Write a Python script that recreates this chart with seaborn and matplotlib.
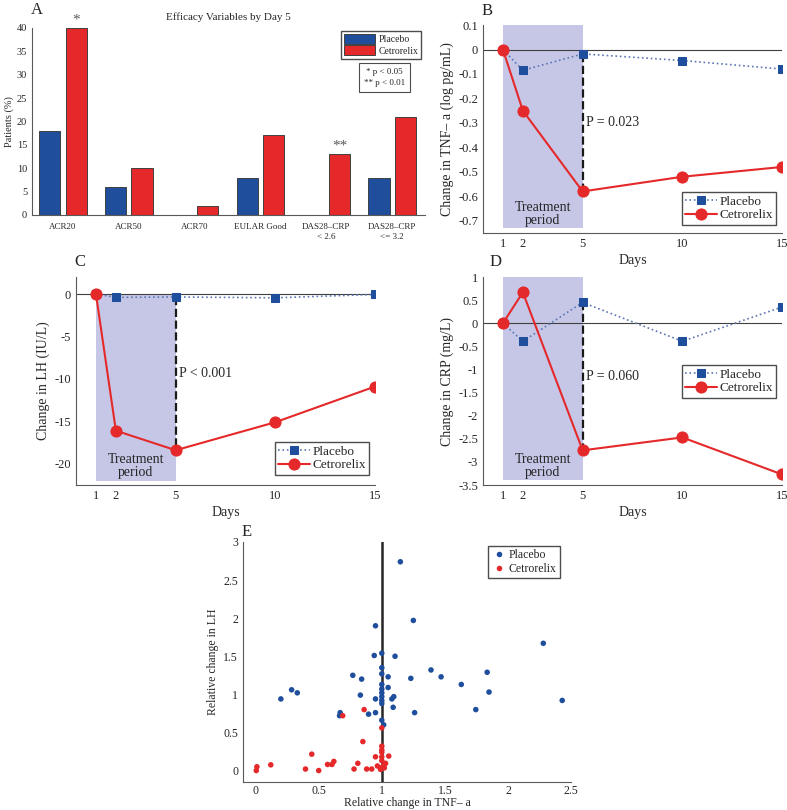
import numpy as np
import pandas as pd
import matplotlib
matplotlib.use('Agg')
import matplotlib.pyplot as plt
import matplotlib.transforms as mtransforms
from matplotlib.ticker import FuncFormatter
import seaborn as sns

# Panel A: efficacy by day 5
measures = ['ACR20', 'ACR50', 'ACR70', 'EULAR Good', 'DAS28–CRP\n< 2.6', 'DAS28–CRP\n<= 3.2']
placebo_pct = [18, 6, 0, 8, 0, 8]
cetro_pct = [40, 10, 2, 17, 13, 21]
stars = ['*', '', '', '', '**', '']

# Panels B-D: change from day 1
days = [1, 2, 5, 10, 15]
tnf_placebo = [0, -0.085, -0.018, -0.045, -0.08]
tnf_cetro = [0, -0.25, -0.58, -0.52, -0.48]
lh_placebo = [0, -0.4, -0.35, -0.45, -0.05]
lh_cetro = [0, -16.1, -18.4, -15.1, -10.9]
crp_placebo = [0, -0.39, 0.45, -0.39, 0.35]
crp_cetro = [0, 0.67, -2.75, -2.47, -3.27]
p_texts = ['P = 0.023', 'P < 0.001', 'P = 0.060']
treatment_days = [1, 5]
shade_low = [-0.73, -22, -3.4]

# Panel E: relative change scatter
plac_tnf_rel = [0.20, 0.285, 0.33, 0.67, 0.665, 0.77, 0.84, 0.83, 0.895, 0.95, 0.94, 0.95, 0.95,
                1.0, 1.0, 1.0, 1.0, 1.0, 1.0, 1.0, 1.0, 1.0, 1.0, 1.015, 1.05, 1.05, 1.08, 1.095,
                1.09, 1.105, 1.147, 1.23, 1.25, 1.26, 1.39, 1.47, 1.63, 1.745, 1.835, 1.85, 2.28, 2.43]
plac_lh_rel = [0.94, 1.06, 1.02, 0.76, 0.72, 1.25, 1.20, 0.99, 0.74, 1.90, 1.51, 0.94, 0.76,
               1.54, 1.35, 1.27, 1.13, 1.07, 1.02, 0.97, 0.92, 0.88, 0.66, 0.60, 1.23, 1.09, 0.94, 0.97,
               0.83, 1.50, 2.74, 1.21, 1.97, 0.76, 1.32, 1.23, 1.13, 0.80, 1.29, 1.03, 1.67, 0.92]
cetro_tnf_rel = [0.005, 0.01, 0.12, 0.395, 0.445, 0.50, 0.57, 0.605, 0.62, 0.69, 0.78, 0.81, 0.85,
                 0.86, 0.88, 0.92, 0.95, 0.965, 0.99, 1.0, 1.0, 1.0, 1.0, 1.0, 1.0, 1.0, 1.02, 1.02,
                 1.03, 1.055]
cetro_lh_rel = [0.0, 0.05, 0.075, 0.02, 0.215, 0.0, 0.08, 0.08, 0.12, 0.72, 0.02, 0.095, 0.38,
                0.80, 0.02, 0.02, 0.18, 0.06, 0.015, 0.56, 0.32, 0.27, 0.24, 0.18, 0.13, 0.04, 0.08, 0.035,
                0.095, 0.19]

blue = '#1f4e9c'
red = '#e5292a'
shade = '#c6c7e7'

sns.set_style('white')
plt.rcParams['font.family'] = ['Liberation Serif', 'DejaVu Serif']
plt.rcParams['axes.unicode_minus'] = False

fig = plt.figure(figsize=(7.87, 8.10), dpi=100)
gfmt = FuncFormatter(lambda v, p: '%g' % (round(v, 6) + 0.0))


def style_axes(ax, size):
    sns.despine(ax=ax)
    for s in ['left', 'bottom']:
        ax.spines[s].set_color('0.35')
        ax.spines[s].set_linewidth(0.8)
    ax.tick_params(direction='in', length=3, width=0.8, color='0.35', labelsize=size)


# ---- A ----
axA = fig.add_axes([0.0407, 0.7346, 0.4994, 0.2309])
dfA = pd.DataFrame({
    'measure': measures * 2,
    'pct': placebo_pct + cetro_pct,
    'group': ['Placebo'] * len(measures) + ['Cetrorelix'] * len(measures),
})
sns.barplot(data=dfA, x='measure', y='pct', hue='group', palette=[blue, red], saturation=1,
            width=0.8, gap=0.2, edgecolor='0.25', linewidth=0.7, ax=axA)
style_axes(axA, 7.5)
axA.tick_params(axis='x', length=0, labelsize=6.5, pad=6)
axA.set_ylim(0, 40)
axA.set_yticks(range(0, 41, 5))
axA.set_xlim(-0.47, 5.5)
axA.set_xlabel('')
axA.set_ylabel('Patients (%)', fontsize=7.5, labelpad=2)
axA.set_title('Efficacy Variables by Day 5', fontsize=8, pad=6)
for i, s in enumerate(stars):
    if s:
        axA.text(i + 0.2, cetro_pct[i] + 0.3, s, ha='center', va='bottom', fontsize=11, color='0.35')
axA.legend(loc='upper right', bbox_to_anchor=(0.99, 0.985), fontsize=7, frameon=True,
           fancybox=False, edgecolor='0.3', framealpha=1, handlelength=3.2, handleheight=1.2,
           borderpad=0.3, labelspacing=0.15, handletextpad=0.3, borderaxespad=0)
axA.text(0.896, 0.735, '* p < 0.05\n** p < 0.01', transform=axA.transAxes, ha='center',
         va='center', fontsize=6.5, linespacing=1.5,
         bbox=dict(boxstyle='square,pad=0.55', fc='white', ec='0.3', lw=0.8))


# ---- B, C, D ----
def line_panel(rect, plac, cetro, idx, ylim, yticks, ylabel, legend_anchor):
    ax = fig.add_axes(rect)
    ax.fill_between(treatment_days, shade_low[idx], ylim[1] if idx != 1 else 0,
                    color=shade, lw=0, zorder=0)
    ax.axhline(0, color='0.25', lw=0.8, zorder=1)
    ax.plot([days[2], days[2]], [plac[2], cetro[2]], color='0.1', ls='--', lw=1.6, zorder=2)
    sns.lineplot(x=days, y=plac, ax=ax, color='#5b77b3', linestyle=':', lw=1.2,
                 marker='s', markersize=6, markerfacecolor=blue, markeredgecolor=blue,
                 label='Placebo', zorder=3)
    sns.lineplot(x=days, y=cetro, ax=ax, color=red, linestyle='-', lw=1.5,
                 marker='o', markersize=8, markerfacecolor=red, markeredgecolor=red,
                 label='Cetrorelix', zorder=4)
    ax.text(days[2] + 0.15, (plac[2] + cetro[2]) / 2, p_texts[idx], fontsize=10,
            ha='left', va='center')
    trans = mtransforms.blended_transform_factory(ax.transData, ax.transAxes)
    ax.text(np.mean(treatment_days), 0.09, 'Treatment\nperiod', transform=trans,
            ha='center', va='center', fontsize=10, linespacing=1.0)
    style_axes(ax, 9)
    ax.set_xlim(0, 15)
    ax.set_xticks(days)
    ax.set_ylim(*ylim)
    ax.set_yticks(yticks)
    ax.yaxis.set_major_formatter(gfmt)
    ax.set_xlabel('Days', fontsize=10, labelpad=3)
    ax.set_ylabel(ylabel, fontsize=10, labelpad=3)
    ax.legend(loc='lower right', bbox_to_anchor=legend_anchor, fontsize=9.5, frameon=True,
              fancybox=False, edgecolor='0.3', framealpha=1, handlelength=2.4,
              borderpad=0.25, labelspacing=0.1, handletextpad=0.2, borderaxespad=0)
    return ax


axB = line_panel([0.6137, 0.7123, 0.3799, 0.2568], tnf_placebo, tnf_cetro, 0,
                 (-0.75, 0.1), np.round(np.arange(-0.7, 0.11, 0.1), 1),
                 'Change in TNF– a (log pg/mL)', (0.98, 0.04))
axC = line_panel([0.0966, 0.4012, 0.3799, 0.2568], lh_placebo, lh_cetro, 1,
                 (-22.5, 2), [-20, -15, -10, -5, 0],
                 'Change in LH (IU/L)', (0.98, 0.05))
axD = line_panel([0.6137, 0.4012, 0.3799, 0.2568], crp_placebo, crp_cetro, 2,
                 (-3.5, 1), np.arange(-3.5, 1.01, 0.5),
                 'Change in CRP (mg/L)', (0.98, 0.42))

# ---- E ----
axE = fig.add_axes([0.3088, 0.0346, 0.4168, 0.2963])
dfE = pd.DataFrame({
    'tnf': plac_tnf_rel + cetro_tnf_rel,
    'lh': plac_lh_rel + cetro_lh_rel,
    'group': ['Placebo'] * len(plac_tnf_rel) + ['Cetrorelix'] * len(cetro_tnf_rel),
})
axE.axvline(1, color='0.15', lw=1.8, zorder=1)
sns.scatterplot(data=dfE, x='tnf', y='lh', hue='group', palette=[blue, red], s=16,
                linewidth=0, ax=axE, zorder=2)
style_axes(axE, 8.5)
axE.tick_params(axis='x', pad=2)
axE.set_xlim(-0.1, 2.5)
axE.set_ylim(-0.15, 3)
axE.set_xticks(np.arange(0, 2.51, 0.5))
axE.set_yticks(np.arange(0, 3.01, 0.5))
axE.xaxis.set_major_formatter(gfmt)
axE.yaxis.set_major_formatter(gfmt)
axE.set_xlabel('Relative change in TNF– a', fontsize=8.5, labelpad=0)
axE.set_ylabel('Relative change in LH', fontsize=8.5, labelpad=3)
axE.legend(loc='upper right', bbox_to_anchor=(0.965, 0.985), fontsize=8.5, frameon=True,
           fancybox=False, edgecolor='0.3', framealpha=1, handlelength=1.2,
           borderpad=0.3, labelspacing=0.15, handletextpad=0.2, borderaxespad=0)

# panel letters
for letter, (px, py) in zip('ABCDE', [(31, 2), (482, 3), (74, 254), (490, 254), (242, 524)]):
    fig.text(px / 787, 1 - py / 810, letter, fontsize=12, va='top', ha='left')

fig.savefig('out.png', dpi=100)
